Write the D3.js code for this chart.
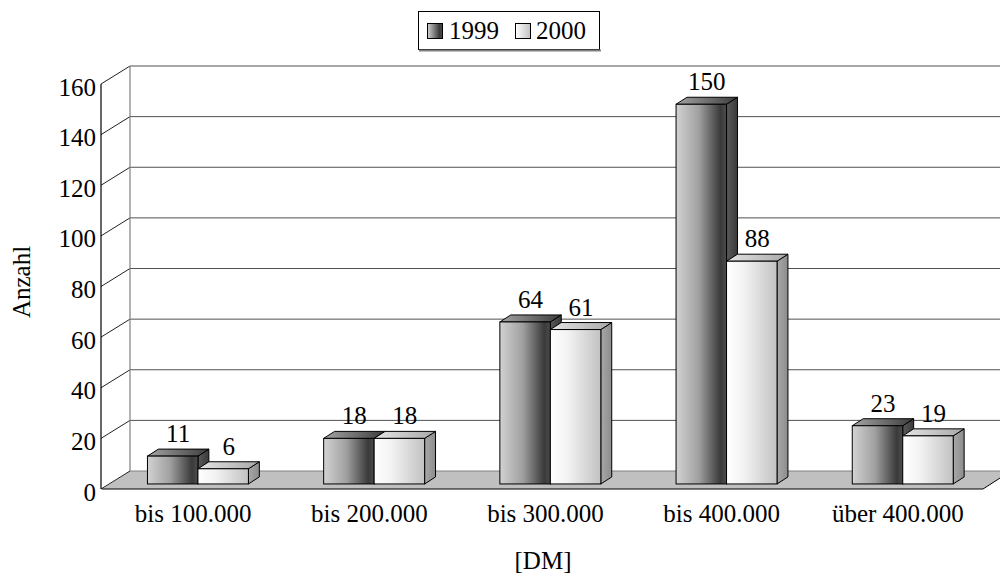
<!DOCTYPE html>
<html>
<head>
<meta charset="utf-8">
<script src="https://cdn.jsdelivr.net/npm/d3@7"></script>
<style>
  html, body { margin: 0; padding: 0; background: #fff; }
  svg { display: block; font-family: "Liberation Serif", "Times New Roman", serif; }
</style>
</head>
<body>
<svg id="chart" width="1000" height="575"></svg>
<script>
// Categories and values
const categories = ["bis 100.000", "bis 200.000", "bis 300.000", "bis 400.000", "über 400.000"];
const seriesNames = ["1999", "2000"];
const values1999 = [11, 18, 64, 150, 23];
const values2000 = [6, 18, 61, 88, 19];
const yTicks = [0, 20, 40, 60, 80, 100, 120, 140, 160];
const yTitle = "Anzahl";
const xTitle = "[DM]";

const FS = 25;
const svg = d3.select("#chart");

// 3D projection: depth 0 = front plane, depth 1 = back wall
const depthX = 28, depthY = -18;
const px = (x, d) => x + depthX * d;
const py = (y, d) => y + depthY * d;

const x = d3.scaleBand().domain(categories).range([102, 983])
  .paddingInner(0.427).paddingOuter(0.2135);
const xs = d3.scaleBand().domain(seriesNames).range([0, x.bandwidth()]).padding(0);
const y = d3.scaleLinear().domain([0, 160]).range([489, 84]);

// bar depth range
const d0 = 0.28, d1 = 0.67;

// gradients
const defs = svg.append("defs");
function grad(id, stops) {
  const g = defs.append("linearGradient").attr("id", id)
    .attr("x1", "0%").attr("x2", "100%").attr("y1", "0%").attr("y2", "0%");
  stops.forEach(s => g.append("stop").attr("offset", s[0]).attr("stop-color", s[1]));
}
grad("front1999", [["0%", "#d2d2d2"], ["45%", "#a0a0a0"], ["88%", "#3a3a3a"], ["100%", "#4c4c4c"]]);
grad("top1999", [["0%", "#a4a4a4"], ["100%", "#3c3c3c"]]);
grad("side1999", [["0%", "#5a5a5a"], ["100%", "#3a3a3a"]]);
grad("front2000", [["0%", "#ffffff"], ["35%", "#f2f2f2"], ["100%", "#c2c2c2"]]);
grad("top2000", [["0%", "#e4e4e4"], ["100%", "#a8a8a8"]]);
grad("side2000", [["0%", "#a8a8a8"], ["100%", "#8c8c8c"]]);
grad("leg1999", [["0%", "#d2d2d2"], ["80%", "#3a3a3a"], ["100%", "#4c4c4c"]]);
grad("leg2000", [["0%", "#ffffff"], ["100%", "#c2c2c2"]]);

const x0 = x.range()[0], x1 = x.range()[1];

const plot = svg.append("g");

// floor
const floor = [[px(x0, 0), y(0)], [px(x1, 0), y(0)], [px(x1, 1), py(y(0), 1)], [px(x0, 1), py(y(0), 1)]];
plot.append("polygon")
  .attr("points", floor.map(p => p.join(",")).join(" "))
  .attr("fill", "#c0c0c0").attr("stroke", "none");
plot.append("line").attr("x1", floor[0][0]).attr("y1", floor[0][1]).attr("x2", floor[1][0]).attr("y2", floor[1][1])
  .attr("stroke", "#000").attr("stroke-width", 1.2);
plot.append("line").attr("x1", floor[1][0]).attr("y1", floor[1][1]).attr("x2", floor[2][0]).attr("y2", floor[2][1])
  .attr("stroke", "#000").attr("stroke-width", 1);

// back wall gridlines
yTicks.forEach(t => {
  plot.append("line")
    .attr("x1", px(x0, 1)).attr("x2", px(x1, 1) + 10)
    .attr("y1", py(y(t), 1)).attr("y2", py(y(t), 1))
    .attr("stroke", t === 0 ? "#808080" : "#505050").attr("stroke-width", 1);
  // side wall diagonal from front axis to back wall
  plot.append("line")
    .attr("x1", px(x0, 0) - 1).attr("y1", y(t))
    .attr("x2", px(x0, 1)).attr("y2", py(y(t), 1))
    .attr("stroke", "#222").attr("stroke-width", 1);
});
// back wall left edge
plot.append("line")
  .attr("x1", px(x0, 1)).attr("x2", px(x0, 1))
  .attr("y1", py(y(160), 1)).attr("y2", py(y(0), 1))
  .attr("stroke", "#808080").attr("stroke-width", 1.2);

// front value axis
plot.append("line")
  .attr("x1", x0 - 1).attr("x2", x0 - 1)
  .attr("y1", y(160)).attr("y2", y(0))
  .attr("stroke", "#000").attr("stroke-width", 1.2);

// tick labels
svg.append("g").selectAll("text").data(yTicks).join("text")
  .attr("x", 96).attr("y", d => y(d) + 11.5)
  .attr("text-anchor", "end").attr("font-size", FS).attr("fill", "#000")
  .text(d => d);

// bars
const rows = [];
categories.forEach((c, i) => {
  rows.push({ cat: c, series: "1999", value: values1999[i] });
  rows.push({ cat: c, series: "2000", value: values2000[i] });
});

const bars = plot.append("g");
rows.forEach(r => {
  const bx = x(r.cat) + xs(r.series);
  const bw = xs.bandwidth();
  const yt = y(r.value), yb = y(0);
  const g = bars.append("g");
  const fl = px(bx, d0), fr = px(bx + bw, d0);
  const bl = px(bx, d1), br = px(bx + bw, d1);
  const ftop = py(yt, d0), fbot = py(yb, d0);
  const btop = py(yt, d1), bbot = py(yb, d1);
  // side face
  g.append("polygon")
    .attr("points", [[fr, ftop], [br, btop], [br, bbot], [fr, fbot]].map(p => p.join(",")).join(" "))
    .attr("fill", `url(#side${r.series})`).attr("stroke", "#000").attr("stroke-width", 1).attr("stroke-linejoin", "round");
  // top face
  g.append("polygon")
    .attr("points", [[fl, ftop], [fr, ftop], [br, btop], [bl, btop]].map(p => p.join(",")).join(" "))
    .attr("fill", `url(#top${r.series})`).attr("stroke", "#000").attr("stroke-width", 1).attr("stroke-linejoin", "round");
  // front face
  g.append("rect")
    .attr("x", fl).attr("y", ftop).attr("width", fr - fl).attr("height", fbot - ftop)
    .attr("fill", `url(#front${r.series})`).attr("stroke", "#000").attr("stroke-width", 1);
  // value label
  svg.append("text")
    .attr("x", (fl + br) / 2).attr("y", btop - 7)
    .attr("text-anchor", "middle").attr("font-size", FS).attr("fill", "#000")
    .text(r.value);
});

// category labels
svg.append("g").selectAll("text").data(categories).join("text")
  .attr("x", d => x(d) + x.bandwidth() / 2 + 3).attr("y", 522)
  .attr("text-anchor", "middle").attr("font-size", FS).attr("fill", "#000")
  .text(d => d);

// axis titles
svg.append("text")
  .attr("transform", "translate(30,282) rotate(-90)")
  .attr("text-anchor", "middle").attr("font-size", FS).text(yTitle);
svg.append("text")
  .attr("x", 543).attr("y", 569)
  .attr("text-anchor", "middle").attr("font-size", FS).text(xTitle);

// legend
const leg = svg.append("g");
leg.append("rect").attr("x", 418.5).attr("y", 11.5).attr("width", 181).attr("height", 38)
  .attr("fill", "#fff").attr("stroke", "#000").attr("stroke-width", 1);
leg.append("line").attr("x1", 419).attr("x2", 601).attr("y1", 50.5).attr("y2", 50.5)
  .attr("stroke", "#808080").attr("stroke-width", 2);
const legItems = [
  { name: "1999", sx: 427, tx: 449 },
  { name: "2000", sx: 515, tx: 536 }
];
legItems.forEach(it => {
  leg.append("rect").attr("x", it.sx + 0.5).attr("y", 23.5).attr("width", 15).attr("height", 15)
    .attr("fill", `url(#leg${it.name})`).attr("stroke", "#000").attr("stroke-width", 1);
  leg.append("text").attr("x", it.tx).attr("y", 39).attr("font-size", FS).text(it.name);
});
</script>
</body>
</html>
